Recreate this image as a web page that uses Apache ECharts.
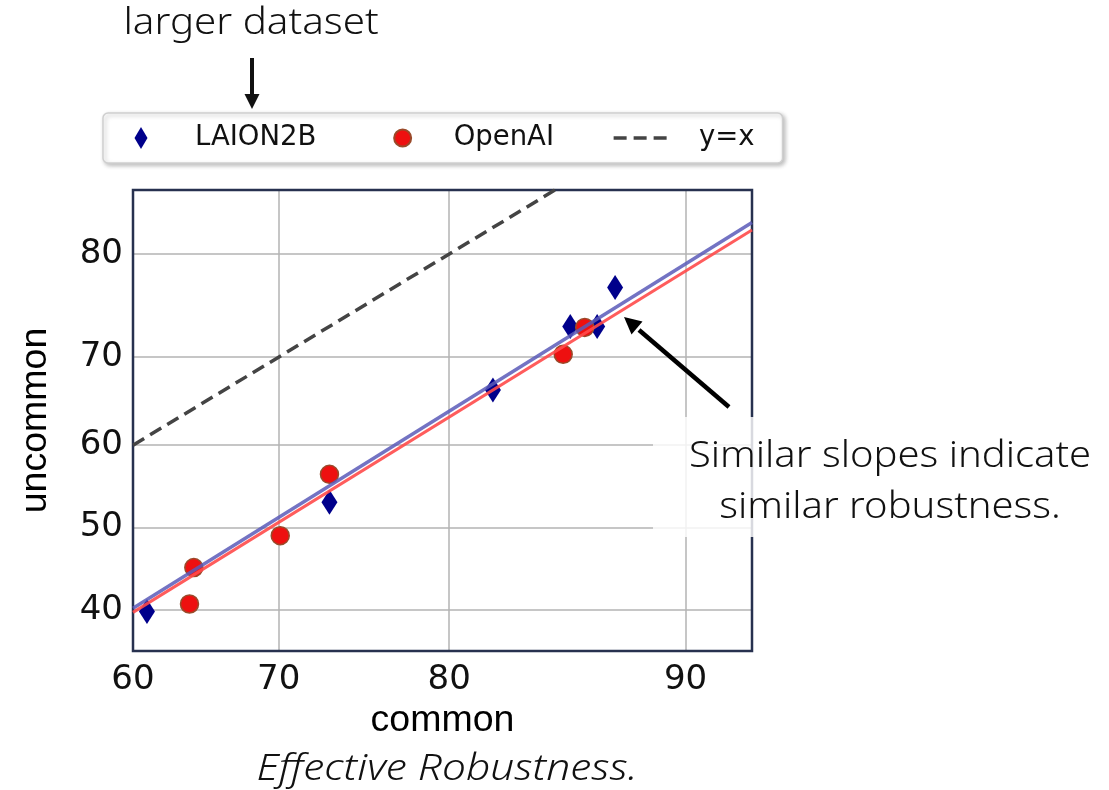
<!DOCTYPE html>
<html>
<head>
<meta charset="utf-8">
<script src="https://cdn.jsdelivr.net/npm/echarts@6/dist/echarts.min.js"></script>
<style>
  html, body { margin: 0; padding: 0; background: #fff; }
  #chart { width: 1109px; height: 790px; }
</style>
</head>
<body>
<div id="chart"></div>
<script>
// Tick labels (accuracy, %)
const xTicks = [60, 70, 80, 90];
const yTicks = [40, 50, 60, 70, 80];

// Models trained on LAION2B
const laionCommon   = [61.0, 73.2, 82.2, 85.7, 86.8, 87.5];
const laionUncommon = [39.8, 53.1, 66.4, 73.2, 73.2, 77.0];

// Models trained on OpenAI data
const openaiCommon   = [64.0, 64.3, 70.1, 73.2, 85.4, 86.3];
const openaiUncommon = [40.7, 45.1, 49.0, 56.5, 70.3, 73.1];

// Fitted trend lines (endpoints across the plotted range)
const fitCommon         = [60, 92];
const laionFitUncommon  = [40.2, 82.6];
const openaiFitUncommon = [39.7, 82.0];

// Reference line y = x
const identity = [60, 90];

// Axis ranges
const xRange = [60, 92];
const yRange = [35.2, 85.05];

// Inverse of the standard normal CDF (Acklam's approximation)
function probit(p) {
  const a = [-3.969683028665376e+01, 2.209460984245205e+02, -2.759285104469687e+02, 1.383577518672690e+02, -3.066479806614716e+01, 2.506628277459239e+00];
  const b = [-5.447609879822406e+01, 1.615858368580409e+02, -1.556989798598866e+02, 6.680131188771972e+01, -1.328068155288572e+01];
  const c = [-7.784894002430293e-03, -3.223964580411365e-01, -2.400758277161838e+00, -2.549732539343734e+00, 4.374664141464968e+00, 2.938163982698783e+00];
  const d = [7.784695709041462e-03, 3.224671290700398e-01, 2.445134137142996e+00, 3.754408661907416e+00];
  const pl = 0.02425, ph = 1 - pl;
  let q, r;
  if (p < pl) {
    q = Math.sqrt(-2 * Math.log(p));
    return (((((c[0]*q + c[1])*q + c[2])*q + c[3])*q + c[4])*q + c[5]) / ((((d[0]*q + d[1])*q + d[2])*q + d[3])*q + 1);
  }
  if (p <= ph) {
    q = p - 0.5; r = q * q;
    return (((((a[0]*r + a[1])*r + a[2])*r + a[3])*r + a[4])*r + a[5])*q / (((((b[0]*r + b[1])*r + b[2])*r + b[3])*r + b[4])*r + 1);
  }
  q = Math.sqrt(-2 * Math.log(1 - p));
  return -(((((c[0]*q + c[1])*q + c[2])*q + c[3])*q + c[4])*q + c[5]) / ((((d[0]*q + d[1])*q + d[2])*q + d[3])*q + 1);
}
// Percent -> probit-scaled axis coordinate
const tf = v => probit(v / 100);
const pairs = (xs, ys) => xs.map((x, i) => [tf(x), tf(ys[i])]);
const tickLabel = ticks => v => {
  const t = ticks.find(t => Math.abs(tf(t) - v) < 1e-6);
  return t === undefined ? '' : String(t);
};

// Legend icons: each path spans the full 76x22 icon box (via the two leading
// move-to points) so the visible glyph sits at a fixed offset inside it.
const diamondIcon = 'path://M0,-11 M76,11 M27,-11 L33.5,0 L27,11 L20.5,0 Z';
const circleIcon  = 'path://M0,-11 M76,11 M21.5,0 A8.5,8.5 0 1,0 38.5,0 A8.5,8.5 0 1,0 21.5,0 Z';
const dashIcon    = 'path://M0,-11 M76,11 M4.4,-1.75 h13 v3.5 h-13 Z M24.4,-1.75 h13 v3.5 h-13 Z M44.4,-1.75 h13 v3.5 h-13 Z';

const tickFont = { fontFamily: 'DejaVu Sans', fontSize: 34, color: '#111' };
const nameFont = { fontFamily: 'Liberation Sans', fontSize: 37.5, color: '#000' };
const noteFont = '"Noto Sans", sans-serif';

const chart = echarts.init(document.getElementById('chart'), null, { renderer: 'canvas' });

chart.setOption({
  animation: false,
  backgroundColor: '#fff',
  grid: {
    left: 133, right: 357, top: 190, bottom: 139, z: 1,
    show: true, borderColor: '#27314f', borderWidth: 2.5, backgroundColor: 'transparent'
  },
  legend: {
    left: 103, top: 113,
    orient: 'horizontal',
    itemWidth: 76, itemHeight: 22, itemGap: 55.2,
    padding: [10, 28, 10, 11],
    backgroundColor: '#fff',
    borderColor: '#cfcfcf', borderWidth: 1.5, borderRadius: 5,
    shadowColor: 'rgba(0,0,0,0.25)', shadowBlur: 4, shadowOffsetX: 2, shadowOffsetY: 2,
    textStyle: { fontFamily: 'DejaVu Sans', fontSize: 27.5, color: '#111', lineHeight: 30 },
    formatter: name => (name === 'y=x' ? ' ' + name : name),
    data: [
      { name: 'LAION2B', icon: diamondIcon },
      { name: 'OpenAI', icon: circleIcon },
      { name: 'y=x', icon: dashIcon }
    ]
  },
  xAxis: {
    type: 'value',
    min: tf(xRange[0]), max: tf(xRange[1]),
    axisLine: { show: false },
    axisTick: { show: false, customValues: xTicks.map(tf) },
    axisLabel: Object.assign({ customValues: xTicks.map(tf), formatter: tickLabel(xTicks), margin: 12 }, tickFont),
    splitLine: { show: true, lineStyle: { color: '#b3b3b3', width: 1.5 } },
    name: 'common', nameLocation: 'middle', nameGap: 47,
    nameTextStyle: nameFont
  },
  yAxis: {
    type: 'value',
    min: tf(yRange[0]), max: tf(yRange[1]),
    axisLine: { show: false },
    axisTick: { show: false, customValues: yTicks.map(tf) },
    axisLabel: Object.assign({ customValues: yTicks.map(tf), formatter: tickLabel(yTicks), margin: 10 }, tickFont),
    splitLine: { show: true, lineStyle: { color: '#b3b3b3', width: 1.5 } },
    name: 'uncommon', nameLocation: 'middle', nameGap: 78, nameRotate: 90,
    nameTextStyle: nameFont
  },
  series: [
    {
      name: 'LAION2B', type: 'scatter', z: 3,
      symbol: 'diamond', symbolSize: [16, 25],
      itemStyle: { color: '#00008b', opacity: 1 },
      data: pairs(laionCommon, laionUncommon)
    },
    {
      name: 'OpenAI', type: 'scatter', z: 3,
      symbol: 'circle', symbolSize: 18,
      itemStyle: { color: '#ee1010', borderColor: '#9a4a2a', borderWidth: 1.5, opacity: 1 },
      data: pairs(openaiCommon, openaiUncommon)
    },
    {
      name: 'y=x', type: 'line', z: 4, clip: true,
      symbol: 'none',
      lineStyle: { color: '#444', width: 3.5, type: [13, 7] },
      itemStyle: { color: '#444' },
      data: pairs(identity, identity)
    },
    {
      name: 'LAION2B fit', type: 'line', z: 4, clip: true,
      symbol: 'none',
      lineStyle: { color: '#5a5ab8', width: 3.5, opacity: 0.85 },
      data: pairs(fitCommon, laionFitUncommon)
    },
    {
      name: 'OpenAI fit', type: 'line', z: 4, clip: true,
      symbol: 'none',
      lineStyle: { color: '#ff4a4a', width: 3, opacity: 0.9 },
      data: pairs(fitCommon, openaiFitUncommon)
    }
  ],
  graphic: [
    {
      type: 'text', x: 251, y: 24, z: 10, scaleX: 1.12,
      style: { text: 'larger dataset', fontFamily: noteFont, fontWeight: 300, fontSize: 36, fill: '#111', align: 'center', verticalAlign: 'middle' }
    },
    { type: 'line', z: 10, shape: { x1: 252, y1: 58, x2: 252, y2: 96 }, style: { stroke: '#111', lineWidth: 4 } },
    { type: 'polygon', z: 10, shape: { points: [[244.5, 94], [259.5, 94], [252, 109]] }, style: { fill: '#111' } },
    {
      type: 'rect', z: 5,
      shape: { x: 653, y: 417, width: 456, height: 120 },
      style: { fill: 'rgba(255,255,255,0.82)' }
    },
    {
      type: 'text', x: 890, y: 456, z: 10, scaleX: 1.08,
      style: { text: 'Similar slopes indicate', fontFamily: noteFont, fontWeight: 300, fontSize: 37, fill: '#111', align: 'center', verticalAlign: 'middle' }
    },
    {
      type: 'text', x: 890, y: 507, z: 10, scaleX: 1.08,
      style: { text: 'similar robustness.', fontFamily: noteFont, fontWeight: 300, fontSize: 37, fill: '#111', align: 'center', verticalAlign: 'middle' }
    },
    { type: 'line', z: 10, shape: { x1: 729, y1: 407, x2: 639, y2: 330 }, style: { stroke: '#000', lineWidth: 4.5 } },
    { type: 'polygon', z: 10, shape: { points: [[624, 317], [642.5, 321.5], [631.5, 334.5]] }, style: { fill: '#000' } },
    {
      type: 'text', x: 447, y: 770, z: 10, scaleX: 1.18,
      style: { text: 'Effective Robustness.', fontFamily: noteFont, fontWeight: 300, fontStyle: 'italic', fontSize: 36, fill: '#111', align: 'center', verticalAlign: 'middle' }
    }
  ]
});
</script>
</body>
</html>
